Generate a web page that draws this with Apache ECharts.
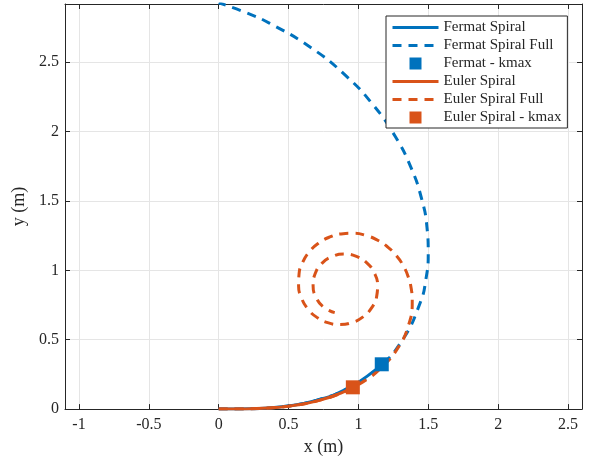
<!DOCTYPE html>
<html>
<head>
<meta charset="utf-8">
<title>Fermat and Euler spirals</title>
<script src="https://cdn.jsdelivr.net/npm/echarts@6/dist/echarts.min.js"></script>
<style>
  html, body { margin: 0; padding: 0; background: #fff; }
  #chart { width: 592px; height: 461px; }
</style>
</head>
<body>
<div id="chart"></div>
<script>
// Fermat spiral: section up to the curvature limit, and the full curve (x, y in metres)
const fermatPath = [
  [0, 0], [0.2337, 0.0023], [0.4670, 0.0187], [0.6982, 0.0630],
  [0.9229, 0.1489], [1.1322, 0.2891], [1.167, 0.323]
];
const fermatFull = [
  [0, 0], [0.2337, 0.0023], [0.4670, 0.0187], [0.6982, 0.0630],
  [0.9229, 0.1489], [1.1322, 0.2891], [1.3123, 0.4940], [1.4434, 0.7699],
  [1.4827, 0.9348], [1.4996, 1.1165], [1.4902, 1.3135], [1.4502, 1.5234],
  [1.3757, 1.7426], [1.2627, 1.9665], [1.1074, 2.1898], [0.9075, 2.4052],
  [0.6610, 2.6051], [0.3657, 2.7805], [0.2025, 2.8550], [0, 2.929]
];
const fermatKmax = [[1.167, 0.323]];

// Euler spiral (clothoid): section up to the curvature limit, and the full curve
const eulerPath = [
  [0, 0], [0.1776, 0.0009], [0.3550, 0.0075], [0.5317, 0.0250],
  [0.7060, 0.0593], [0.8743, 0.1149], [0.960, 0.157]
];
const eulerFull = [
  [0, 0], [0.1776, 0.0009], [0.3550, 0.0075], [0.5317, 0.0250],
  [0.7060, 0.0593], [0.8743, 0.1149], [1.0320, 0.1962], [1.1716, 0.3056],
  [1.2837, 0.4428], [1.3583, 0.6035], [1.3851, 0.7784], [1.3780, 0.8669],
  [1.3565, 0.9528], [1.3206, 1.0340], [1.2706, 1.1072], [1.2078, 1.1699],
  [1.1342, 1.2189], [1.0519, 1.2522], [0.9645, 1.2672], [0.8758, 1.2629],
  [0.7909, 1.2388], [0.7135, 1.1953], [0.6491, 1.1347], [0.6016, 1.0597],
  [0.5751, 0.9754], [0.5717, 0.8867], [0.5925, 0.8008], [0.6366, 0.7237],
  [0.7005, 0.6630], [0.7800, 0.6234], [0.8670, 0.6099], [0.9547, 0.6239],
  [1.0329, 0.6648], [1.0941, 0.7291], [1.1301, 0.8093], [1.1370, 0.8978],
  [1.1128, 0.9825], [1.0600, 1.0539], [0.9857, 1.1006], [0.8985, 1.1172],
  [0.8123, 1.0997], [0.7385, 1.0503], [0.6907, 0.9768], [0.6755, 0.8893],
  [0.6971, 0.8044], [0.7521, 0.7347], [0.8303, 0.6953]
];
const eulerKmax = [[0.960, 0.157]];

const seriesNames = [
  'Fermat Spiral', 'Fermat Spiral Full', 'Fermat - kmax',
  'Euler Spiral', 'Euler Spiral Full', 'Euler Spiral - kmax'
];

const BLUE = '#0072BD';
const ORANGE = '#D95319';
const INK = '#262626';
const FONT = '"Liberation Serif", "DejaVu Serif", serif';
const SQUARE = 'path://M0,0H10V10H0Z';
const DASH = [9, 7];

const xRange = [-1.1, 2.6];
const yRange = [0, 2.92];

const chart = echarts.init(document.getElementById('chart'), null, { renderer: 'canvas' });

function baseAxis(range, split) {
  return {
    type: 'value',
    min: range[0],
    max: range[1],
    splitNumber: split,
    axisLine: { show: true, onZero: false, lineStyle: { color: INK, width: 1 } },
    axisTick: { show: true, inside: true, length: 5, lineStyle: { color: INK, width: 1 } }
  };
}

const xMain = Object.assign(baseAxis(xRange, 7), {
  position: 'bottom',
  name: 'x (m)',
  nameLocation: 'middle',
  nameGap: 28,
  nameTextStyle: { fontFamily: FONT, fontSize: 18, color: INK },
  axisLabel: {
    show: true, margin: 8, showMinLabel: false, showMaxLabel: false,
    fontFamily: FONT, fontSize: 16, color: INK
  },
  splitLine: { show: true, lineStyle: { color: '#e5e5e5', width: 1 } }
});
const xTop = Object.assign(baseAxis(xRange, 7), {
  position: 'top',
  axisLabel: { show: false },
  splitLine: { show: false }
});
const yMain = Object.assign(baseAxis(yRange, 6), {
  position: 'left',
  name: 'y (m)',
  nameLocation: 'middle',
  nameGap: 31,
  nameTextStyle: { fontFamily: FONT, fontSize: 18, color: INK },
  axisLabel: {
    show: true, margin: 6, showMaxLabel: false,
    fontFamily: FONT, fontSize: 16, color: INK
  },
  splitLine: { show: true, lineStyle: { color: '#e5e5e5', width: 1 } }
});
const yRight = Object.assign(baseAxis(yRange, 6), {
  position: 'right',
  axisLabel: { show: false },
  splitLine: { show: false }
});

function curve(name, data, color, dashed, z) {
  return {
    name: name,
    type: 'line',
    data: data,
    xAxisIndex: 0,
    yAxisIndex: 0,
    smooth: 0.5,
    symbol: 'none',
    showSymbol: false,
    clip: true,
    z: z,
    lineStyle: { color: color, width: 3, type: dashed ? DASH : 'solid', cap: 'butt' },
    itemStyle: { color: color },
    emphasis: { disabled: true },
    animation: false
  };
}

function marker(name, data, color, z) {
  return {
    name: name,
    type: 'scatter',
    data: data,
    xAxisIndex: 0,
    yAxisIndex: 0,
    symbol: SQUARE,
    symbolSize: 14,
    z: z,
    itemStyle: { color: color, opacity: 1 },
    emphasis: { disabled: true },
    animation: false
  };
}

// line entries in the legend show only the stroke, no point symbol
const legendData = seriesNames.map(function (n) {
  return n.indexOf('kmax') >= 0 ? { name: n } : { name: n, itemStyle: { opacity: 0 } };
});

chart.setOption({
  backgroundColor: '#ffffff',
  animation: false,
  grid: { left: 65, top: 4, right: 10, bottom: 50, containLabel: false },
  xAxis: [xMain, xTop],
  yAxis: [yMain, yRight],
  legend: {
    orient: 'vertical',
    left: 386,
    top: 16,
    padding: [4, 6, 3, 5],
    itemWidth: 46,
    itemHeight: 12,
    itemGap: 3,
    backgroundColor: '#ffffff',
    borderColor: INK,
    borderWidth: 1,
    borderRadius: 0,
    selectedMode: false,
    symbolKeepAspect: true,
    lineStyle: { width: 3 },
    textStyle: { fontFamily: FONT, fontSize: 15, color: INK },
    data: legendData
  },
  series: [
    curve(seriesNames[0], fermatPath, BLUE, false, 2),
    curve(seriesNames[1], fermatFull, BLUE, true, 2),
    marker(seriesNames[2], fermatKmax, BLUE, 5),
    curve(seriesNames[3], eulerPath, ORANGE, false, 3),
    curve(seriesNames[4], eulerFull, ORANGE, true, 3),
    marker(seriesNames[5], eulerKmax, ORANGE, 6)
  ]
});
</script>
</body>
</html>
